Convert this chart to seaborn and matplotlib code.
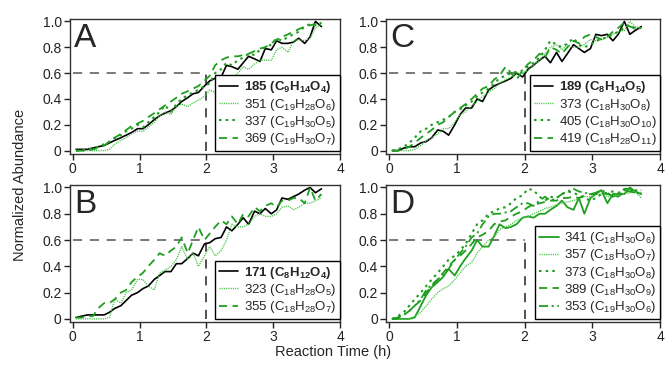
import numpy as np
import pandas as pd
import seaborn as sns
import matplotlib
matplotlib.use("Agg")
from matplotlib import pyplot as plt
from matplotlib.ticker import FuncFormatter

# reaction time (h), 5 min sampling
time_h = [0.05, 0.13, 0.22, 0.30, 0.38, 0.47, 0.55, 0.63, 0.72, 0.80,
          0.88, 0.97, 1.05, 1.13, 1.22, 1.30, 1.38, 1.47, 1.55, 1.63,
          1.72, 1.80, 1.88, 1.97, 2.05, 2.13, 2.22, 2.30, 2.38, 2.47,
          2.55, 2.63, 2.72, 2.80, 2.88, 2.97, 3.05, 3.13, 3.22, 3.30,
          3.38, 3.47, 3.55, 3.63, 3.72]

# panel A
a_185 = [0.01, 0.01, 0.01, 0.02, 0.03, 0.04, 0.06, 0.08, 0.10, 0.12,
         0.14, 0.17, 0.17, 0.20, 0.24, 0.27, 0.29, 0.31, 0.34, 0.38,
         0.41, 0.44, 0.45, 0.50, 0.54, 0.56, 0.57, 0.66, 0.65, 0.63,
         0.68, 0.73, 0.71, 0.69, 0.79, 0.78, 0.85, 0.83, 0.83, 0.84,
         0.87, 0.83, 0.88, 1.00, 0.96]
a_351 = [0, 0, 0, 0, 0, 0, 0.01, 0.05, 0.08, 0.10,
         0.13, 0.15, 0.15, 0.18, 0.22, 0.27, 0.30, 0.28, 0.34, 0.36,
         0.34, 0.37, 0.39, 0.42, 0.47, 0.45, 0.50, 0.55, 0.55, 0.60,
         0.65, 0.63, 0.67, 0.70, 0.70, 0.70, 0.78, 0.80, 0.76, 0.85,
         0.86, 0.85, 0.87, 0.95, 0.98]
a_337 = [0, 0, 0.01, 0.02, 0.03, 0.05, 0.07, 0.10, 0.12, 0.15,
         0.17, 0.20, 0.18, 0.22, 0.26, 0.30, 0.35, 0.30, 0.36, 0.40,
         0.43, 0.45, 0.47, 0.50, 0.52, 0.60, 0.63, 0.68, 0.66, 0.70,
         0.72, 0.75, 0.74, 0.78, 0.80, 0.82, 0.87, 0.85, 0.88, 0.90,
         0.92, 0.96, 0.98, 0.97, 0.99]
a_369 = [0, 0, 0, 0.01, 0.02, 0.04, 0.07, 0.10, 0.13, 0.16,
         0.19, 0.21, 0.23, 0.26, 0.29, 0.32, 0.35, 0.38, 0.41, 0.44,
         0.46, 0.48, 0.50, 0.54, 0.58, 0.66, 0.70, 0.72, 0.73, 0.73,
         0.74, 0.75, 0.77, 0.79, 0.80, 0.83, 0.86, 0.88, 0.90, 0.92,
         0.94, 0.96, 0.97, 0.98, 0.99]

# panel B
b_171 = [0.01, 0.02, 0.03, 0.03, 0.03, 0.03, 0.05, 0.08, 0.10, 0.14,
         0.18, 0.20, 0.23, 0.25, 0.30, 0.33, 0.36, 0.36, 0.42, 0.42,
         0.46, 0.50, 0.48, 0.57, 0.58, 0.61, 0.62, 0.70, 0.67, 0.72,
         0.77, 0.72, 0.82, 0.80, 0.84, 0.80, 0.83, 0.92, 0.91, 0.93,
         0.95, 0.98, 1.00, 0.96, 0.99]
b_323 = [0, 0, 0, 0, 0, 0, 0.01, 0.15, 0.12, 0.20,
         0.22, 0.30, 0.30, 0.25, 0.22, 0.35, 0.37, 0.40, 0.45, 0.55,
         0.45, 0.50, 0.40, 0.48, 0.55, 0.48, 0.52, 0.60, 0.72, 0.70,
         0.70, 0.72, 0.78, 0.80, 0.78, 0.78, 0.80, 0.85, 0.86, 0.83,
         0.85, 0.88, 0.88, 0.90, 0.92]
b_355 = [0.01, 0.01, 0.02, 0.02, 0.08, 0.12, 0.12, 0.15, 0.20, 0.22,
         0.28, 0.32, 0.35, 0.40, 0.45, 0.50, 0.48, 0.52, 0.55, 0.62,
         0.50, 0.60, 0.70, 0.60, 0.65, 0.70, 0.75, 0.72, 0.78, 0.72,
         0.80, 0.78, 0.85, 0.82, 0.86, 0.88, 0.85, 0.90, 0.90, 0.92,
         0.92, 0.88, 1.00, 0.90, 0.95]

# panel C
c_189 = [0, 0, 0.02, 0.03, 0.03, 0.06, 0.07, 0.10, 0.16, 0.15,
         0.12, 0.20, 0.28, 0.33, 0.33, 0.40, 0.38, 0.47, 0.50, 0.52,
         0.54, 0.56, 0.60, 0.57, 0.63, 0.66, 0.70, 0.73, 0.68, 0.76,
         0.69, 0.75, 0.82, 0.79, 0.76, 0.79, 0.90, 0.89, 0.90, 0.85,
         0.90, 1.00, 0.90, 0.93, 0.96]
c_373 = [0, 0, 0, 0, 0.01, 0.04, 0.08, 0.10, 0.13, 0.17,
         0.17, 0.22, 0.28, 0.30, 0.35, 0.38, 0.42, 0.45, 0.48, 0.52,
         0.55, 0.57, 0.60, 0.60, 0.62, 0.66, 0.70, 0.75, 0.80, 0.82,
         0.78, 0.82, 0.80, 0.80, 0.82, 0.86, 0.85, 0.86, 0.88, 0.90,
         0.92, 0.93, 1.00, 0.96, 0.95]
c_405 = [0, 0.01, 0.03, 0.06, 0.10, 0.15, 0.17, 0.20, 0.22, 0.24,
         0.26, 0.30, 0.32, 0.35, 0.38, 0.42, 0.45, 0.48, 0.52, 0.56,
         0.58, 0.60, 0.61, 0.62, 0.65, 0.68, 0.72, 0.78, 0.85, 0.82,
         0.80, 0.83, 0.87, 0.82, 0.80, 0.82, 0.85, 0.86, 0.88, 0.90,
         0.92, 0.95, 0.97, 0.94, 0.95]
c_419 = [0, 0, 0.01, 0.03, 0.06, 0.10, 0.13, 0.16, 0.20, 0.22,
         0.26, 0.30, 0.33, 0.36, 0.40, 0.44, 0.48, 0.50, 0.55, 0.58,
         0.65, 0.60, 0.55, 0.62, 0.67, 0.70, 0.75, 0.72, 0.80, 0.78,
         0.75, 0.80, 0.85, 0.83, 0.88, 0.90, 0.88, 0.86, 0.88, 0.92,
         0.95, 0.99, 0.96, 0.95, 0.95]

# panel D
d_341 = [0, 0, 0, 0, 0.01, 0.10, 0.18, 0.24, 0.28, 0.32,
         0.38, 0.33, 0.40, 0.46, 0.52, 0.60, 0.55, 0.55, 0.63, 0.72,
         0.69, 0.70, 0.72, 0.77, 0.78, 0.77, 0.80, 0.80, 0.83, 0.86,
         0.90, 0.85, 0.83, 0.92, 0.80, 0.92, 0.95, 0.98, 0.88, 0.95,
         0.95, 0.95, 1.00, 0.97, 0.95]
d_357 = [0, 0, 0, 0, 0.02, 0.05, 0.10, 0.15, 0.20, 0.23,
         0.25, 0.30, 0.35, 0.40, 0.43, 0.50, 0.55, 0.60, 0.62, 0.68,
         0.70, 0.72, 0.75, 0.77, 0.78, 0.80, 0.82, 0.84, 0.85, 0.87,
         0.88, 0.89, 0.90, 0.92, 0.93, 0.93, 0.95, 0.95, 0.93, 0.93,
         0.94, 0.95, 0.96, 0.97, 0.92]
d_373 = [0, 0.02, 0.05, 0.10, 0.15, 0.20, 0.25, 0.30, 0.35, 0.40,
         0.45, 0.48, 0.52, 0.57, 0.65, 0.72, 0.75, 0.80, 0.82, 0.84,
         0.85, 0.88, 0.92, 0.94, 0.99, 0.98, 0.93, 0.90, 0.93, 0.92,
         0.95, 0.97, 0.96, 0.94, 0.92, 0.90, 0.92, 0.95, 0.96, 0.97,
         0.96, 0.98, 0.98, 0.97, 0.94]
d_389 = [0, 0, 0.03, 0.06, 0.10, 0.14, 0.20, 0.25, 0.30, 0.35,
         0.40, 0.45, 0.48, 0.52, 0.57, 0.62, 0.64, 0.67, 0.72, 0.74,
         0.75, 0.78, 0.80, 0.82, 0.85, 0.87, 0.88, 0.89, 0.90, 0.90,
         0.92, 0.92, 0.93, 0.92, 0.94, 0.95, 0.95, 0.96, 0.95, 0.94,
         0.93, 0.97, 0.97, 0.96, 0.96]
d_353 = [0, 0.01, 0.03, 0.06, 0.10, 0.15, 0.22, 0.26, 0.30, 0.34,
         0.38, 0.45, 0.50, 0.55, 0.62, 0.65, 0.72, 0.78, 0.80, 0.80,
         0.81, 0.82, 0.85, 0.88, 0.88, 0.86, 0.90, 0.93, 0.90, 0.92,
         0.95, 0.97, 0.99, 0.97, 0.96, 0.95, 0.96, 0.98, 0.96, 0.93,
         0.95, 0.99, 0.99, 0.98, 0.98]

sns.set_style("ticks")
plt.rcParams["font.family"] = ["Liberation Sans", "DejaVu Sans"]
plt.rcParams["mathtext.fontset"] = "custom"
plt.rcParams["mathtext.rm"] = "Liberation Sans"
plt.rcParams["mathtext.it"] = "Liberation Sans:italic"
plt.rcParams["mathtext.bf"] = "Liberation Sans:bold"

GREEN = "#1f9e1f"
LIGHT = "#44c444"
styles = {
    "solid_k": dict(color="black", linestyle="-", linewidth=1.2),
    "solid": dict(color=GREEN, linestyle="-", linewidth=1.3),
    "fine": dict(color=LIGHT, linestyle=(0, (0.8, 0.8)), linewidth=1.0),
    "dot": dict(color=GREEN, linestyle=(0, (1.2, 2.0)), linewidth=1.5),
    "dash": dict(color=GREEN, linestyle=(0, (4.5, 3.0)), linewidth=1.3),
    "dashdot": dict(color=GREEN, linestyle=(0, (5, 2, 1.2, 2)), linewidth=1.3),
}

panels = [
    ("A", [0.105, 0.583, 0.405, 0.366], [
        (a_185, r"$\mathbf{185\ (C_{9}H_{14}O_{4})}$", "solid_k"),
        (a_351, r"351 (C$_{19}$H$_{28}$O$_{6}$)", "fine"),
        (a_337, r"337 (C$_{19}$H$_{30}$O$_{5}$)", "dot"),
        (a_369, r"369 (C$_{19}$H$_{30}$O$_{7}$)", "dash"),
    ]),
    ("C", [0.579, 0.583, 0.411, 0.366], [
        (c_189, r"$\mathbf{189\ (C_{8}H_{14}O_{5})}$", "solid_k"),
        (c_373, r"373 (C$_{18}$H$_{30}$O$_{8}$)", "fine"),
        (c_405, r"405 (C$_{18}$H$_{30}$O$_{10}$)", "dot"),
        (c_419, r"419 (C$_{18}$H$_{28}$O$_{11}$)", "dash"),
    ]),
    ("B", [0.105, 0.127, 0.405, 0.372], [
        (b_171, r"$\mathbf{171\ (C_{8}H_{12}O_{4})}$", "solid_k"),
        (b_323, r"323 (C$_{18}$H$_{28}$O$_{5}$)", "fine"),
        (b_355, r"355 (C$_{18}$H$_{28}$O$_{7}$)", "dash"),
    ]),
    ("D", [0.579, 0.127, 0.411, 0.372], [
        (d_341, r"341 (C$_{18}$H$_{30}$O$_{6}$)", "solid"),
        (d_357, r"357 (C$_{18}$H$_{30}$O$_{7}$)", "fine"),
        (d_373, r"373 (C$_{18}$H$_{30}$O$_{8}$)", "dot"),
        (d_389, r"389 (C$_{18}$H$_{30}$O$_{9}$)", "dash"),
        (d_353, r"353 (C$_{19}$H$_{30}$O$_{6}$)", "dashdot"),
    ]),
]

fig = plt.figure(figsize=(6.67, 3.69), dpi=100)

for letter, rect, series in panels:
    ax = fig.add_axes(rect)
    # 60% guide lines
    ax.plot([0, 2], [0.6, 0.6], color="#555555", linestyle=(0, (6, 5)), linewidth=1.1)
    ax.plot([2, 2], [0, 0.6], color="#222222", linestyle=(0, (6, 5)), linewidth=1.1)
    for vals, label, st in series:
        df = pd.DataFrame({"t": time_h, "y": vals})
        sns.lineplot(data=df, x="t", y="y", ax=ax, label=label, **styles[st])
    ax.set_xlim(-0.04, 4.0)
    ax.set_ylim(-0.025, 1.02)
    ax.set_xticks([0, 1, 2, 3, 4])
    ax.set_yticks([0, 0.2, 0.4, 0.6, 0.8, 1.0])
    ax.yaxis.set_major_formatter(FuncFormatter(lambda v, p: "0" if v == 0 else f"{v:.1f}"))
    ax.tick_params(direction="out", length=4, width=1, labelsize=10, colors="#222222", pad=2)
    for s in ax.spines.values():
        s.set_color("#333333")
        s.set_linewidth(1.0)
    ax.set_xlabel("")
    ax.set_ylabel("")
    ax.text(0.015, 0.97, letter, transform=ax.transAxes, fontsize=24, va="top", ha="left")
    leg = ax.legend(loc="lower right", bbox_to_anchor=(1.0, 0.02), borderaxespad=0,
                    fontsize=9.5, frameon=True, fancybox=False, framealpha=1,
                    edgecolor="black", handlelength=1.5, handletextpad=0.4,
                    labelspacing=0.1, borderpad=0.3)
    leg.get_frame().set_linewidth(1.0)

fig.text(0.03, 0.5, "Normalized Abundance", rotation=90, ha="center", va="center", fontsize=10.5)
fig.text(0.5, 0.045, "Reaction Time (h)", ha="center", va="center", fontsize=10.5)

fig.savefig("out.png", dpi=100)
